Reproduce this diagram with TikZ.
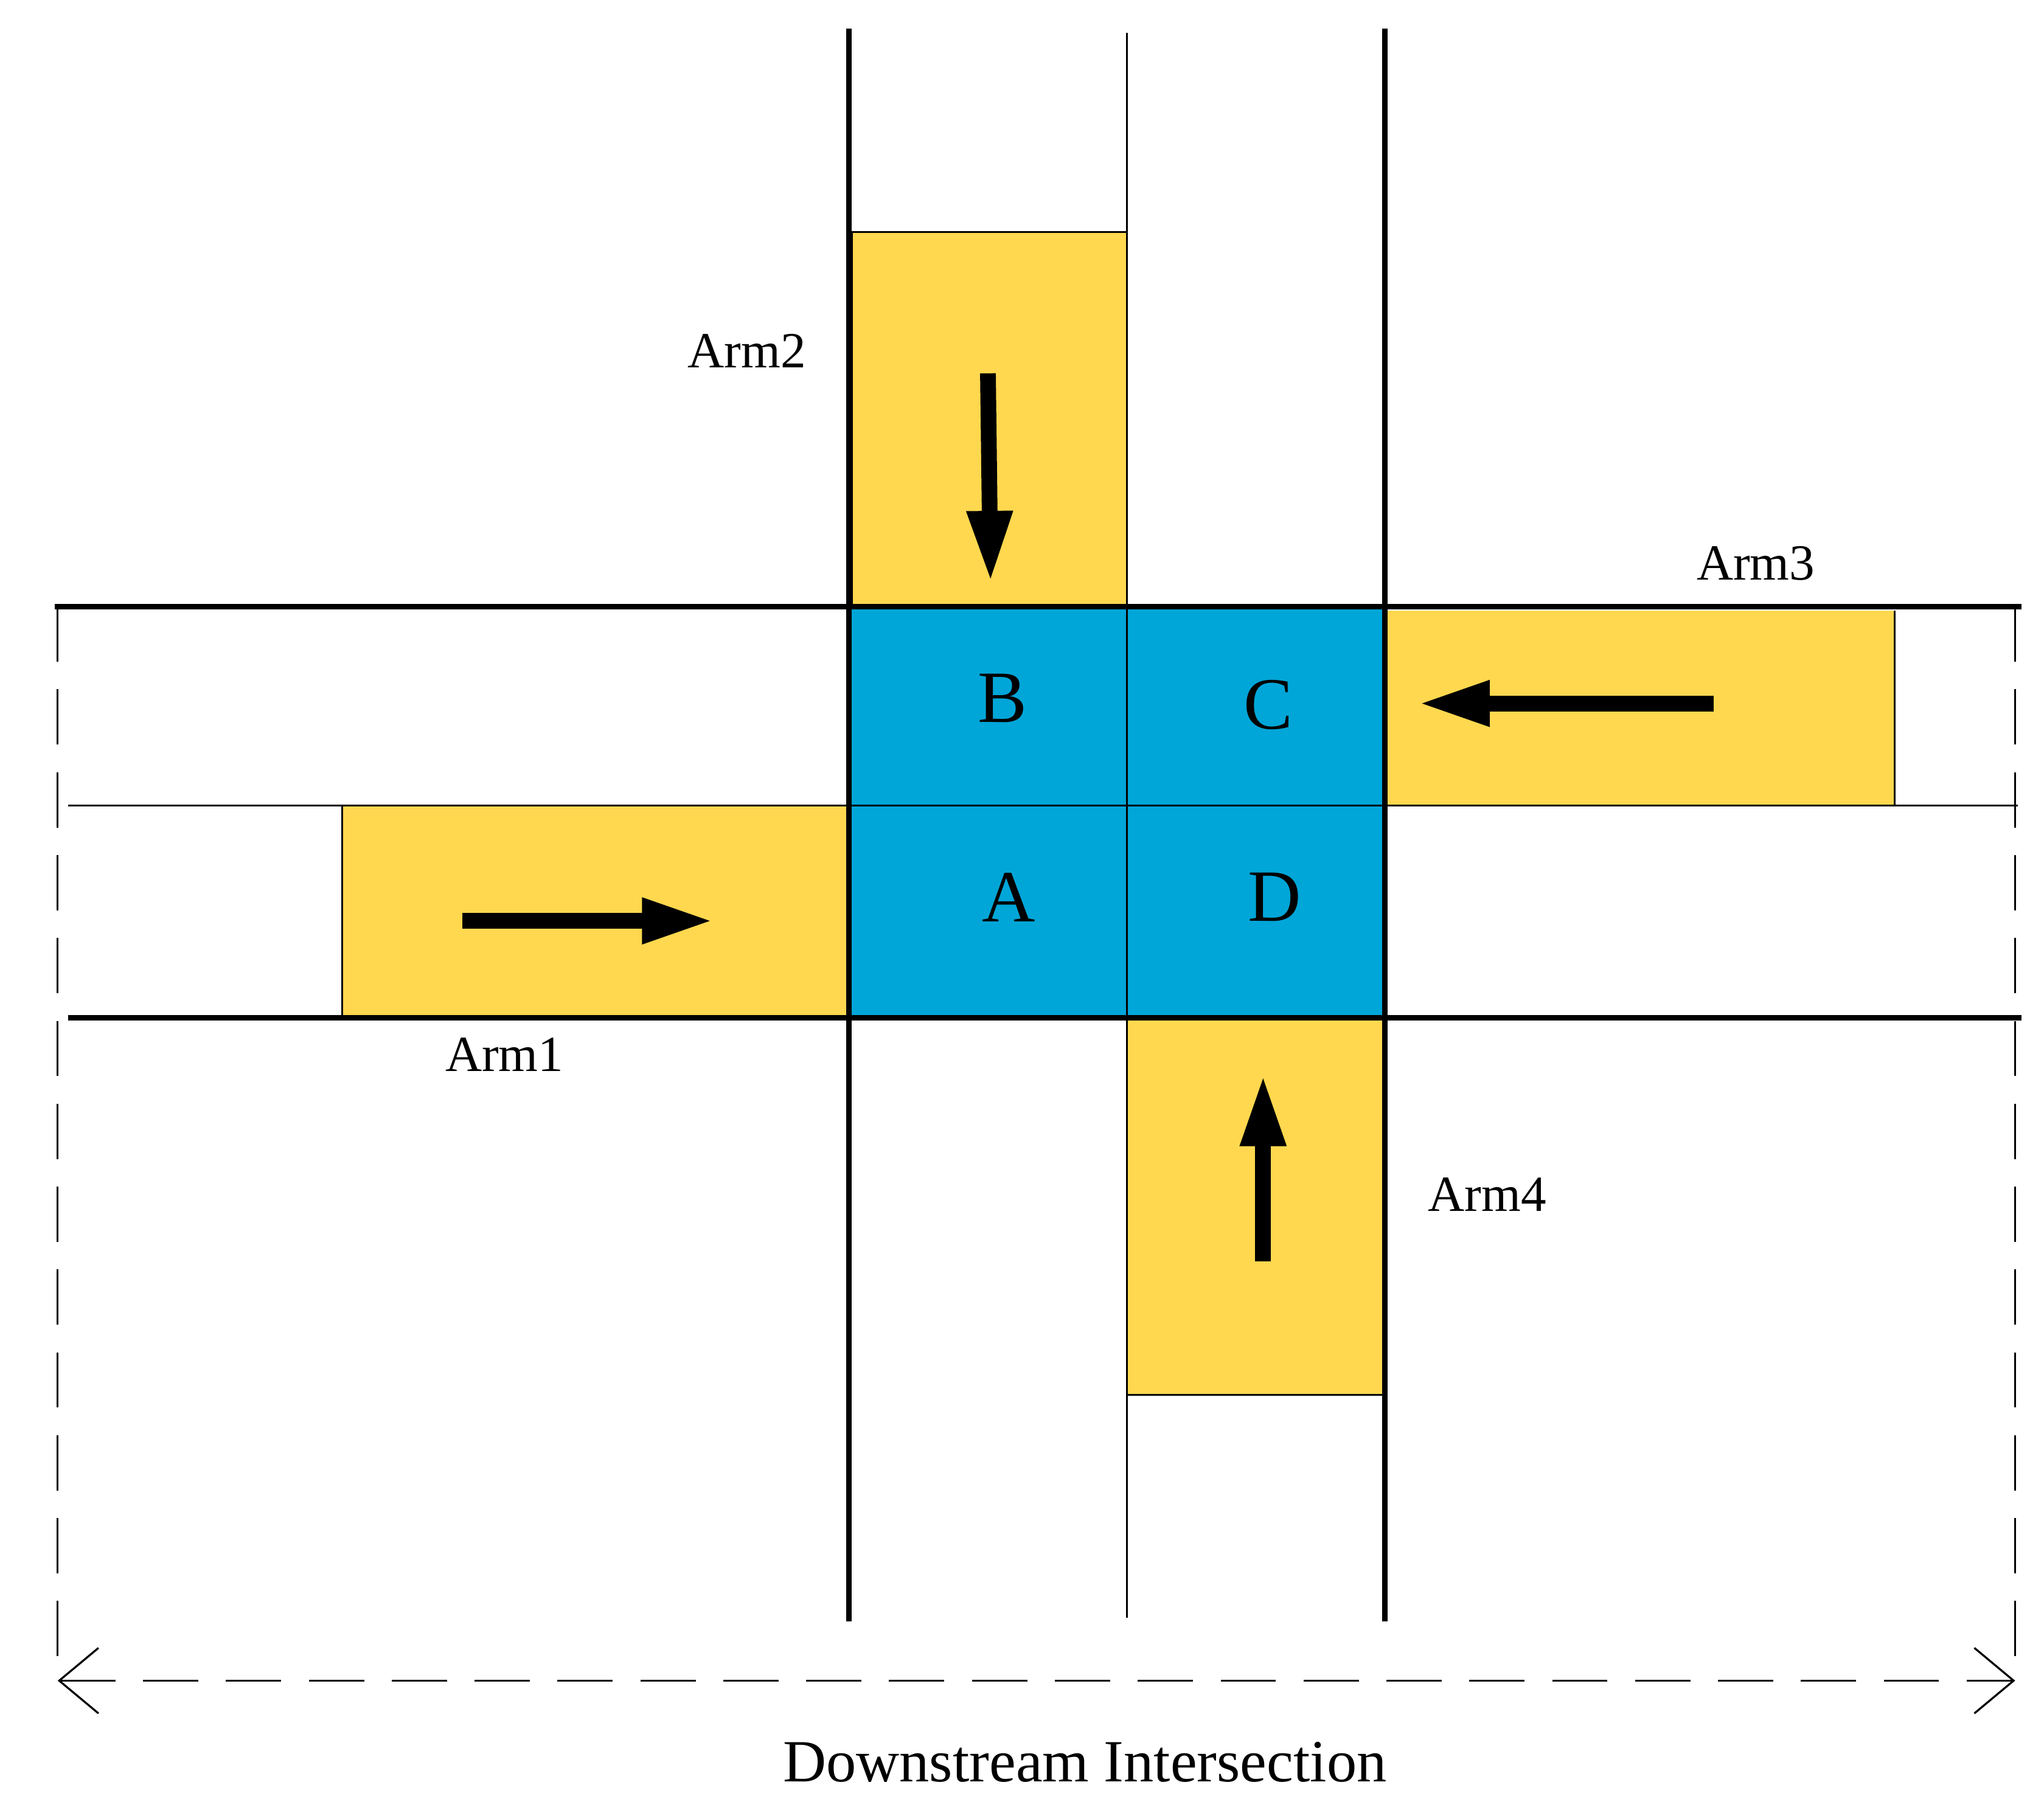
\documentclass[tikz,border=0pt]{standalone}
\usepackage{fontspec}
\setmainfont{Liberation Serif}
\usetikzlibrary{arrows.meta}
\definecolor{yel}{HTML}{FFD84F}
\definecolor{blu}{HTML}{00A6D8}
\begin{document}
\begin{tikzpicture}[x=0.1mm,y=-0.1mm,
 thick road/.style={line width=0.4mm},
 thin road/.style={line width=0.15mm},
 zone/.style={draw=black,line width=0.15mm},
 flow/.style={line width=1.2mm,-{Triangle[width=3.2mm,length=5.5mm]}},
 lab/.style={font=\fontsize{11}{13}\selectfont},
 big/.style={font=\fontsize{16}{18}\selectfont}]
\useasboundingbox (0,0) rectangle (1560,1373);
% zones
\fill[yel] (650,177) rectangle (860,463);
\draw[thin road] (650,463) -- (650,177) -- (860,177);
\fill[yel] (1057,466) rectangle (1446,615);
\draw[thin road] (1446,466) -- (1446,615);
\fill[yel] (261,615) rectangle (648,777);
\draw[thin road] (261,615) -- (261,777);
\fill[yel] (860,777) rectangle (1057,1065);
\draw[thin road] (860,1065) -- (1057,1065);
\fill[blu] (648,463) rectangle (1057,777);
% roads
\draw[thick road] (648,22) -- (648,1238);
\draw[thin road] (860,25) -- (860,1235);
\draw[thick road] (1057,22) -- (1057,1238);
\draw[thick road] (42,463) -- (1543,463);
\draw[thin road] (52,615) -- (1540,615);
\draw[thick road] (52,777) -- (1543,777);
% dashed
\draw[thin road,dash pattern=on 12pt off 6pt] (44,463) -- (44,1283);
\draw[thin road,dash pattern=on 12pt off 6pt] (1538,463) -- (1538,1283);
\coordinate (dl) at (44,1283);
\coordinate (dr) at (1538,1283);
\draw[thin road,dash pattern=on 12pt off 6pt,{Straight Barb[length=3mm,width=5mm]}-{Straight Barb[length=3mm,width=5mm]}] (dl) -- (dr);
\node[lab,font=\fontsize{13}{15}\selectfont] (ds) at (828,1345) {Downstream Intersection};
% letters
\node[big] (B) at (765,533) {B};
\node[big] (C) at (968,538) {C};
\node[big] (A) at (770,685) {A};
\node[big] (D) at (973,685) {D};
% arrows
\draw[flow] (754,285) -- (756,445);
\draw[flow] (1308,537) -- (1082,537);
\draw[flow] (353,703) -- (545,703);
\draw[flow] (964,963) -- (964,820);
% labels
\node[lab] (a2) at (570,268) {Arm2};
\node[lab] (a3) at (1340,430) {Arm3};
\node[lab] (a1) at (385,805) {Arm1};
\node[lab] (a4) at (1135,912) {Arm4};
\end{tikzpicture}
\end{document}
